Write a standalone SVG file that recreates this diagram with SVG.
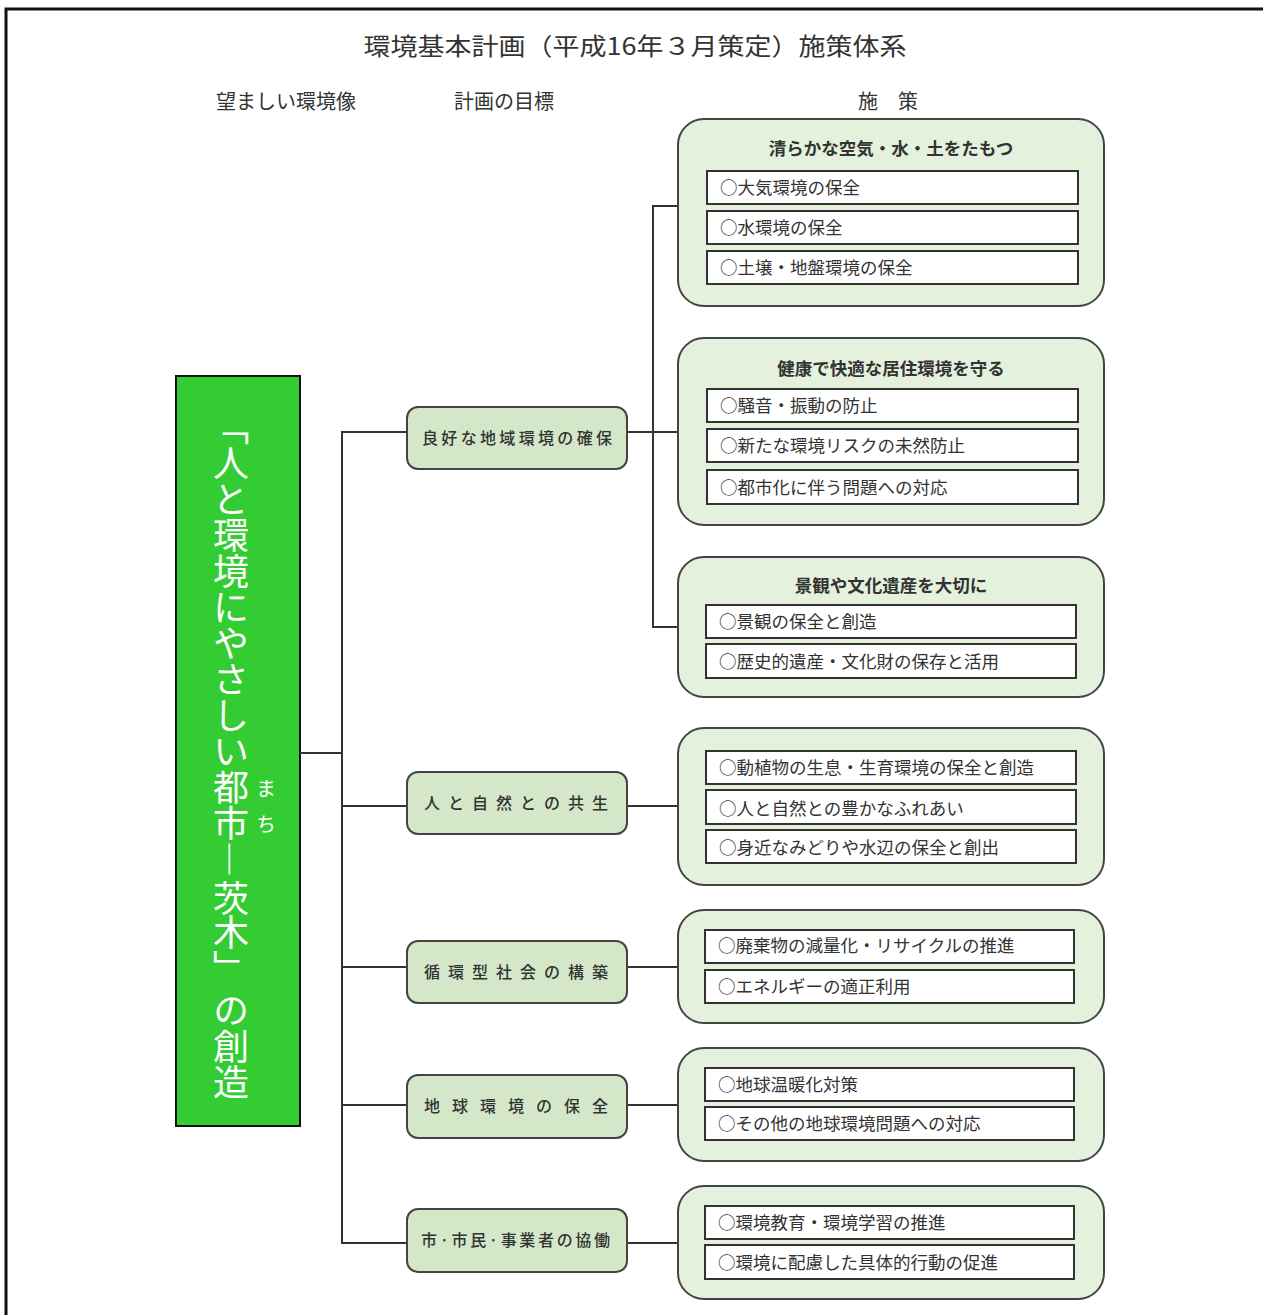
<svg xmlns="http://www.w3.org/2000/svg" width="1263" height="1315" viewBox="0 0 1263 1315">
<style>
text{font-family:"Noto Sans CJK JP","Noto Sans CJK SC",sans-serif;fill:#333}
.frame{stroke:#111;stroke-width:3;fill:none}
.conn line{stroke:#333;stroke-width:2}
.goal rect{fill:#d4e7c8;stroke:#444;stroke-width:2}
.goal text{font-size:16px;font-weight:500}
.grp{fill:#e4f1dc;stroke:#444;stroke-width:2}
.item{fill:#fff;stroke:#333;stroke-width:2}
.it{font-size:17.5px}
.gt{font-size:17.5px;font-weight:600;text-anchor:middle}
.hd{font-size:20px;text-anchor:middle}
.vt{writing-mode:vertical-rl;fill:#fff;font-size:36px}
</style>
<rect width="1263" height="1315" fill="#fff"/>
<path class="frame" d="M6 1315 V9 H1263"/>
<text x="635" y="55" font-size="24" text-anchor="middle" textLength="543" lengthAdjust="spacingAndGlyphs">環境基本計画（平成16年３月策定）施策体系</text>
<text class="hd" x="286" y="109">望ましい環境像</text>
<text class="hd" x="504" y="109">計画の目標</text>
<text class="hd" x="888" y="109">施　策</text>

<g id="vision">
<rect x="176" y="376" width="124" height="750" fill="#33cc33" stroke="#111" stroke-width="2"/>
<text class="vt" x="231" y="409 445 481 517 553 589 625 661 697 733 769 805 841 880 914 950 992 1028 1064">「人と環境にやさしい都市―茨木」の創造</text>
<text class="vt" x="266" y="778 814" style="font-size:20px">まち</text>
</g>

<g id="connectors" class="conn">
<line x1="300" y1="753" x2="342" y2="753"/>
<line x1="342" y1="431" x2="342" y2="1244"/>
<line x1="341" y1="432" x2="407" y2="432"/>
<line x1="341" y1="806" x2="407" y2="806"/>
<line x1="341" y1="967" x2="407" y2="967"/>
<line x1="341" y1="1105" x2="407" y2="1105"/>
<line x1="341" y1="1243" x2="407" y2="1243"/>
<line x1="653" y1="205" x2="653" y2="628"/>
<line x1="652" y1="206" x2="678" y2="206"/>
<line x1="627" y1="432" x2="678" y2="432"/>
<line x1="652" y1="627" x2="678" y2="627"/>
<line x1="627" y1="806" x2="678" y2="806"/>
<line x1="627" y1="967" x2="678" y2="967"/>
<line x1="627" y1="1105" x2="678" y2="1105"/>
<line x1="627" y1="1243" x2="678" y2="1243"/>
</g>

<g id="goal1" class="goal"><rect x="407" y="407" width="220" height="62" rx="11"/><text x="422" y="444" textLength="190" lengthAdjust="spacing">良好な地域環境の確保</text></g>
<g id="goal2" class="goal"><rect x="407" y="772" width="220" height="62" rx="11"/><text x="424" y="809" textLength="184" lengthAdjust="spacing">人と自然との共生</text></g>
<g id="goal3" class="goal"><rect x="407" y="941" width="220" height="62" rx="11"/><text x="424" y="978" textLength="184" lengthAdjust="spacing">循環型社会の構築</text></g>
<g id="goal4" class="goal"><rect x="407" y="1075" width="220" height="63" rx="11"/><text x="424" y="1112" textLength="184" lengthAdjust="spacing">地球環境の保全</text></g>
<g id="goal5" class="goal"><rect x="407" y="1209" width="220" height="63" rx="11"/><text x="421" y="1246" textLength="189" lengthAdjust="spacing">市·市民·事業者の協働</text></g>

<g id="policy1">
<rect class="grp" x="678" y="119" width="426" height="187" rx="26"/>
<text class="gt" x="891" y="155">清らかな空気・水・土をたもつ</text>
<rect class="item" x="707" y="171" width="371" height="33"/><text class="it" x="720" y="194">○大気環境の保全</text>
<rect class="item" x="707" y="211" width="371" height="33"/><text class="it" x="720" y="234">○水環境の保全</text>
<rect class="item" x="707" y="251" width="371" height="33"/><text class="it" x="720" y="274">○土壌・地盤環境の保全</text>
</g>
<g id="policy2">
<rect class="grp" x="678" y="338" width="426" height="187" rx="26"/>
<text class="gt" x="891" y="375">健康で快適な居住環境を守る</text>
<rect class="item" x="707" y="389" width="371" height="33"/><text class="it" x="720" y="412">○騒音・振動の防止</text>
<rect class="item" x="707" y="429" width="371" height="33"/><text class="it" x="720" y="452">○新たな環境リスクの未然防止</text>
<rect class="item" x="707" y="470" width="371" height="34"/><text class="it" x="720" y="494">○都市化に伴う問題への対応</text>
</g>
<g id="policy3">
<rect class="grp" x="678" y="557" width="426" height="140" rx="26"/>
<text class="gt" x="891" y="592">景観や文化遺産を大切に</text>
<rect class="item" x="706" y="605" width="370" height="33"/><text class="it" x="719" y="628">○景観の保全と創造</text>
<rect class="item" x="706" y="644" width="370" height="34"/><text class="it" x="719" y="668">○歴史的遺産・文化財の保存と活用</text>
</g>
<g id="policy4">
<rect class="grp" x="678" y="728" width="426" height="157" rx="26"/>
<rect class="item" x="706" y="751" width="370" height="33"/><text class="it" x="719" y="774">○動植物の生息・生育環境の保全と創造</text>
<rect class="item" x="706" y="790" width="370" height="34"/><text class="it" x="719" y="815">○人と自然との豊かなふれあい</text>
<rect class="item" x="706" y="830" width="370" height="33"/><text class="it" x="719" y="854">○身近なみどりや水辺の保全と創出</text>
</g>
<g id="policy5">
<rect class="grp" x="678" y="910" width="426" height="113" rx="26"/>
<rect class="item" x="705" y="930" width="369" height="33"/><text class="it" x="718" y="952">○廃棄物の減量化・リサイクルの推進</text>
<rect class="item" x="705" y="970" width="369" height="33"/><text class="it" x="718" y="993">○エネルギーの適正利用</text>
</g>
<g id="policy6">
<rect class="grp" x="678" y="1048" width="426" height="113" rx="26"/>
<rect class="item" x="705" y="1068" width="369" height="33"/><text class="it" x="718" y="1091">○地球温暖化対策</text>
<rect class="item" x="705" y="1107" width="369" height="33"/><text class="it" x="718" y="1130">○その他の地球環境問題への対応</text>
</g>
<g id="policy7">
<rect class="grp" x="678" y="1186" width="426" height="113" rx="26"/>
<rect class="item" x="705" y="1206" width="369" height="33"/><text class="it" x="718" y="1229">○環境教育・環境学習の推進</text>
<rect class="item" x="705" y="1245" width="369" height="34"/><text class="it" x="718" y="1269">○環境に配慮した具体的行動の促進</text>
</g>
</svg>
